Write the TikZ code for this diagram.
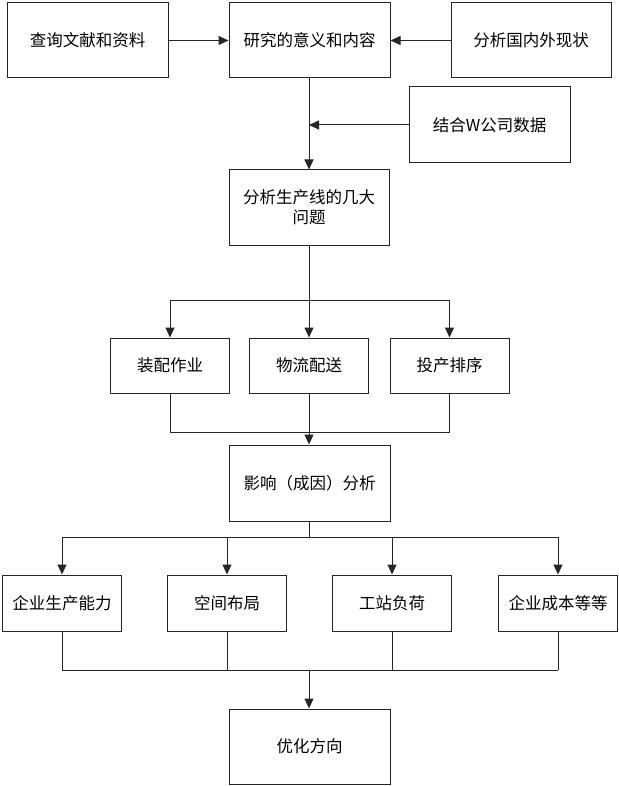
\documentclass[tikz,border=0pt]{standalone}
\usepackage{fontspec}
\setmainfont{Noto Sans CJK SC}
\usetikzlibrary{arrows.meta}
\tikzset{
  box/.style={draw=black!85, line width=1pt, fill=white, inner sep=0pt, align=center,
    font=\fontsize{16.5}{20}\selectfont},
  bigbox/.style={box, minimum width=161pt, minimum height=75pt},
  smallbox/.style={box, minimum width=119pt, minimum height=56pt},
  conn/.style={draw=black!85, line width=1pt},
  arr/.style={conn, -{Triangle[length=10pt,width=9pt]}}
}
\begin{document}
\begin{tikzpicture}[x=1pt,y=-1pt]
\useasboundingbox[fill=white] (0,0) rectangle (618,786);
% top row
\node[bigbox] (q) at (87.5,40.5) {查询文献和资料};
\node[bigbox] (r) at (309.5,40.5) {研究的意义和内容};
\node[bigbox, minimum width=160pt] (f) at (531,40.5) {分析国内外现状};
\node[bigbox, minimum height=76pt] (j) at (489.5,125) {结合W公司数据};
\node[bigbox, minimum width=160pt] (p) at (309,207.5) {分析生产线的几大\\问题};
% three problems
\node[smallbox, minimum height=55pt] (a1) at (170,365.5) {装配作业};
\node[smallbox, minimum height=55pt] (a2) at (309,365.5) {物流配送};
\node[smallbox, minimum height=55pt] (a3) at (449.5,365.5) {投产排序};
\node[bigbox, minimum height=76pt] (e) at (309.5,483) {影响（成因）分析};
% four factors
\node[smallbox] (b1) at (62,603) {企业生产能力};
\node[smallbox] (b2) at (227,603) {空间布局};
\node[smallbox] (b3) at (392,603) {工站负荷};
\node[smallbox] (b4) at (558,603) {企业成本等等};
\node[bigbox] (o) at (309.5,746.5) {优化方向};
% coordinates
\coordinate (s1) at (309,300);
\coordinate (c1) at (309,432);
\coordinate (s2) at (309,537);
\coordinate (c2) at (309,670);
% connectors top
\draw[arr] (q.east) -- (r.west);
\draw[arr] (f.west) -- (r.east);
\draw[arr] (309,78) -- (p.north -| 309,0);
\draw[arr] (j.west) -- (j.west -| 309,0);
% split 1
\draw[conn] (p.south -| s1) -- (s1);
\draw[conn] (s1 -| a1.north) -- (s1 -| a3.north);
\draw[arr] (s1 -| a1.north) -- (a1.north);
\draw[arr] (s1) -- (a2.north);
\draw[arr] (s1 -| a3.north) -- (a3.north);
% collect 1
\draw[conn] (a1.south) -- (c1 -| a1.south) -- (c1 -| a3.south) -- (a3.south);
\draw[arr] (a2.south) -- (e.north -| a2.south);
% split 2
\draw[conn] (e.south -| s2) -- (s2);
\draw[conn] (s2 -| b1.north) -- (s2 -| b4.north);
\foreach \b in {b1,b2,b3,b4} \draw[arr] (s2 -| \b.north) -- (\b.north);
% collect 2
\foreach \b in {b1,b2,b3,b4} \draw[conn] (\b.south) -- (c2 -| \b.south);
\draw[conn] (c2 -| b1.south) -- (c2 -| b4.south);
\draw[arr] (c2) -- (o.north -| c2);
\end{tikzpicture}
\end{document}
